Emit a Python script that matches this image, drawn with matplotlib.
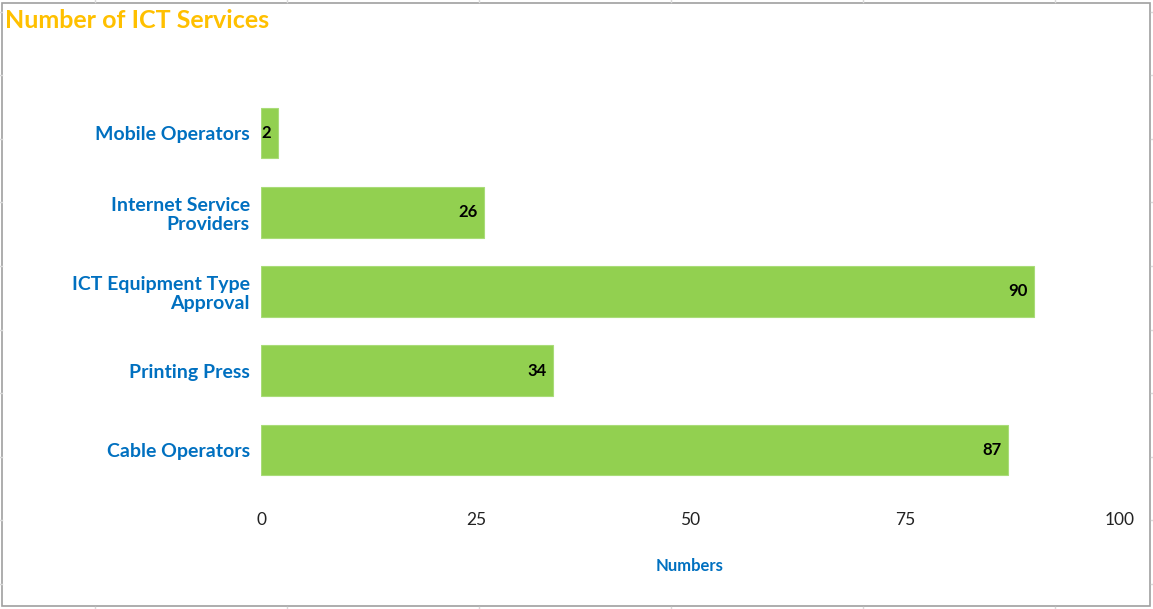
import matplotlib.pyplot as plt
from matplotlib.patches import Rectangle

plt.rcParams['font.family'] = ['Lato', 'DejaVu Sans']

categories = ["Cable Operators", "Printing Press", "ICT Equipment Type\nApproval",
              "Internet Service\nProviders", "Mobile Operators"]
values = [87, 34, 90, 26, 2]
xticks = [0, 25, 50, 75, 100]

BLUE = "#0070C0"
GREEN = "#92D050"
GOLD = "#FFC000"

fig = plt.figure(figsize=(11.53, 6.09), dpi=100)
ax = fig.add_axes([0.2264, 0.1962, 0.745, 0.6503])

pos = range(len(categories))
bars = ax.barh(pos, values, height=0.64, color=GREEN, edgecolor="#A9DC78", linewidth=0.8)

for b, v in zip(bars, values):
    ax.text(b.get_width() - 0.8, b.get_y() + b.get_height() / 2, str(v),
            ha="right", va="center", fontsize=12, fontweight="bold", color="black")

ax.set_xlim(0, 100)
ax.set_ylim(-0.5, len(categories) - 0.5)
ax.set_yticks(list(pos))
ax.set_yticklabels(categories, fontsize=14, fontweight="bold", color=BLUE,
                   linespacing=1.15)
ax.set_xticks(xticks)
ax.set_xticklabels([str(t) for t in xticks], fontsize=12.5, color="#222222")
ax.tick_params(axis="both", length=0)
ax.tick_params(axis="x", pad=16)
ax.tick_params(axis="y", pad=8)
for s in ax.spines.values():
    s.set_visible(False)

fig.text(690 / 1153, 1 - 566 / 609, "Numbers", ha="center", va="center",
         fontsize=12, fontweight="bold", color=BLUE)
fig.text(5 / 1153, 1 - 20 / 609, "Number of ICT Services", ha="left", va="center",
         fontsize=18, fontweight="bold", color=GOLD)

# spreadsheet cell lines peeking around the chart frame
for xp in [95, 287, 479, 671, 863, 1055]:
    fig.add_artist(plt.Line2D([xp / 1153, xp / 1153], [0, 2 / 609], color="#D9D9D9", lw=1))
    fig.add_artist(plt.Line2D([xp / 1153, xp / 1153], [1 - 2 / 609, 1], color="#D9D9D9", lw=1))
for yp in [12, 75, 139, 202, 266, 330, 393, 457, 520, 584]:
    fig.add_artist(plt.Line2D([0, 2 / 1153], [1 - yp / 609] * 2, color="#D9D9D9", lw=1))
    fig.add_artist(plt.Line2D([1 - 2 / 1153, 1], [1 - yp / 609] * 2, color="#D9D9D9", lw=1))

fig.add_artist(Rectangle((2 / 1153, 3 / 609), 1148 / 1153, 603 / 609, fill=False,
                         edgecolor="#A0A0A0", lw=1.2, transform=fig.transFigure))

fig.savefig("out.png", dpi=100)
